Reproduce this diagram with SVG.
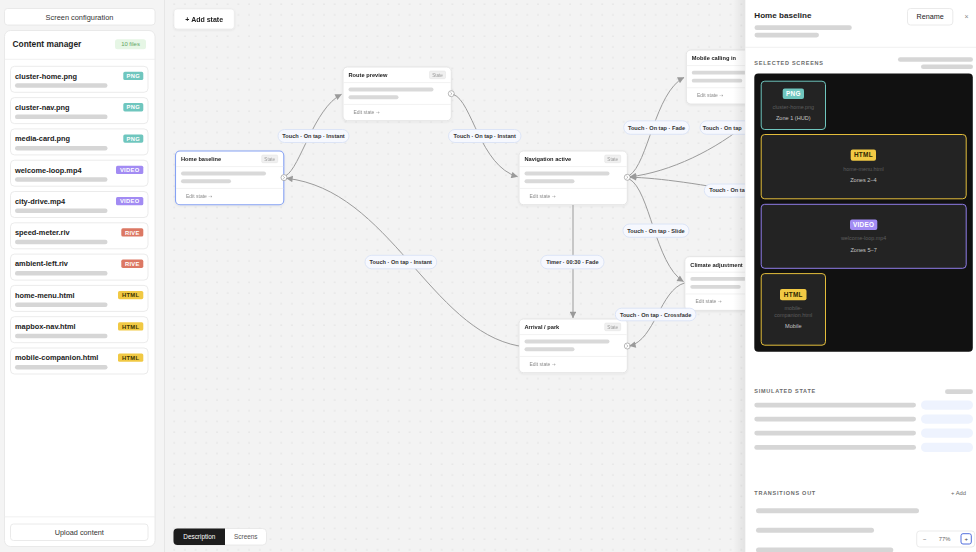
<svg xmlns="http://www.w3.org/2000/svg" width="976" height="552" viewBox="0 0 976 552">
<defs>
<pattern id="dots" x="2" y="3" width="10.7" height="10.7" patternUnits="userSpaceOnUse">
<circle cx="1" cy="1" r="0.6" fill="#d0d0d0"/>
</pattern>
<linearGradient id="shadowL" x1="0" y1="0" x2="1" y2="0">
<stop offset="0" stop-color="#000" stop-opacity="0"/>
<stop offset="1" stop-color="#000" stop-opacity="0.07"/>
</linearGradient>
<filter id="sh" x="-10%" y="-10%" width="120%" height="130%">
<feDropShadow dx="0" dy="0.8" stdDeviation="0.9" flood-color="#000" flood-opacity="0.08"/>
</filter>
<marker id="arr" viewBox="0 0 10 10" refX="9.5" refY="5" markerWidth="7.5" markerHeight="6.5" markerUnits="userSpaceOnUse" orient="auto">
<path d="M0,0 L10,5 L0,10 z" fill="#9a9a9a"/>
</marker>
</defs>
<style>
text{font-family:"Liberation Sans",Arial,sans-serif}
.card{fill:#fff;stroke:#e6e6e6;stroke-width:0.8}
.fname{font-size:7.4px;font-weight:bold;fill:#222}
.bar{fill:#d6d6d6}
.bdg{font-size:5.8px;font-weight:bold;fill:#fff;text-anchor:middle;letter-spacing:0.3px}
.node{fill:#fff;stroke:#e0e0e0;stroke-width:0.8}
.ntitle{font-size:5.7px;font-weight:bold;fill:#222}
.sep{stroke:#ececec;stroke-width:0.7}
.nbar{fill:#d9d9d9}
.edit{font-size:5px;fill:#8a8a8a}
.ar{font-family:"DejaVu Sans",sans-serif;font-size:4.6px}
.stb{fill:#f0f0f0;stroke:#e2e2e2;stroke-width:0.5}
.stt{font-size:4.6px;fill:#9a9a9a;text-anchor:middle}
.port{fill:#fff;stroke:#9a9a9a;stroke-width:0.7}
.edge{fill:none;stroke:#9b9b9b;stroke-width:1}
.pill{fill:#f6f8fe;stroke:#d5dff5;stroke-width:0.8}
.ptxt{font-size:5.6px;font-weight:bold;fill:#333;text-anchor:middle}
.cap{font-size:5.5px;font-weight:bold;fill:#6b6b6b;letter-spacing:0.75px}
.tile{fill:#232323;stroke-width:1}
.tfile{font-size:5.4px;fill:#5e5e5e;text-anchor:middle}
.tzone{font-size:5.6px;fill:#c4c4c4;text-anchor:middle}
.tb{font-size:6.4px;font-weight:bold;text-anchor:middle;letter-spacing:0.3px}
</style>

<rect x="0" y="0" width="976" height="552" fill="#f4f4f4"/>

<g id="canvas">
<rect x="165" y="0" width="811" height="552" fill="#f3f3f3"/>
<rect x="165" y="0" width="811" height="552" fill="url(#dots)"/>
<line x1="164.5" y1="0" x2="164.5" y2="552" stroke="#e6e6e6" stroke-width="1"/>
</g>

<g id="sidebar">
<g id="screen-config">
<rect x="4.5" y="8.5" width="150.5" height="16.5" rx="3" fill="#fff" stroke="#e4e4e4" stroke-width="0.8"/>
<text x="79.5" y="19.6" font-size="7.4" font-weight="500" fill="#333" text-anchor="middle">Screen configuration</text>
</g>
<g id="content-manager">
<rect x="4.5" y="30.5" width="150.5" height="516" rx="6" fill="#fff" stroke="#e4e4e4" stroke-width="0.8"/>
<text x="12.5" y="47" font-size="8.4" font-weight="bold" fill="#1e1e1e">Content manager</text>
<rect x="115" y="39.3" width="31" height="10" rx="2.5" fill="#e6f6e5"/>
<text x="130.5" y="46.4" font-size="5.9" fill="#5fa35f" text-anchor="middle">10 files</text>
<line x1="4.5" y1="59.3" x2="155" y2="59.3" stroke="#ececec" stroke-width="0.8"/>

<g id="file-1"><rect class="card" x="10.5" y="66.3" width="137.5" height="26" rx="4"/><text class="fname" x="15" y="78.6">cluster-home.png</text><rect class="bar" x="15" y="83.3" width="92.5" height="4.5" rx="2.2"/><rect x="123.3" y="71.8" width="20" height="8.3" rx="1.6" fill="#6fc6be"/><text class="bdg" x="133.3" y="78.1">PNG</text></g>
<g id="file-2"><rect class="card" x="10.5" y="97.6" width="137.5" height="26" rx="4"/><text class="fname" x="15" y="109.9">cluster-nav.png</text><rect class="bar" x="15" y="114.6" width="92.5" height="4.5" rx="2.2"/><rect x="123.3" y="103.1" width="20" height="8.3" rx="1.6" fill="#6fc6be"/><text class="bdg" x="133.3" y="109.4">PNG</text></g>
<g id="file-3"><rect class="card" x="10.5" y="128.9" width="137.5" height="26" rx="4"/><text class="fname" x="15" y="141.2">media-card.png</text><rect class="bar" x="15" y="145.9" width="92.5" height="4.5" rx="2.2"/><rect x="123.3" y="134.4" width="20" height="8.3" rx="1.6" fill="#6fc6be"/><text class="bdg" x="133.3" y="140.7">PNG</text></g>
<g id="file-4"><rect class="card" x="10.5" y="160.2" width="137.5" height="26" rx="4"/><text class="fname" x="15" y="172.5">welcome-loop.mp4</text><rect class="bar" x="15" y="177.2" width="92.5" height="4.5" rx="2.2"/><rect x="116" y="165.7" width="27.3" height="8.3" rx="1.6" fill="#a28bf3"/><text class="bdg" x="129.7" y="172">VIDEO</text></g>
<g id="file-5"><rect class="card" x="10.5" y="191.5" width="137.5" height="26" rx="4"/><text class="fname" x="15" y="203.8">city-drive.mp4</text><rect class="bar" x="15" y="208.5" width="92.5" height="4.5" rx="2.2"/><rect x="116" y="197" width="27.3" height="8.3" rx="1.6" fill="#a28bf3"/><text class="bdg" x="129.7" y="203.3">VIDEO</text></g>
<g id="file-6"><rect class="card" x="10.5" y="222.8" width="137.5" height="26" rx="4"/><text class="fname" x="15" y="235.1">speed-meter.riv</text><rect class="bar" x="15" y="239.8" width="92.5" height="4.5" rx="2.2"/><rect x="121.3" y="228.3" width="22" height="8.3" rx="1.6" fill="#dc7864"/><text class="bdg" x="132.3" y="234.6">RIVE</text></g>
<g id="file-7"><rect class="card" x="10.5" y="254.1" width="137.5" height="26" rx="4"/><text class="fname" x="15" y="266.4">ambient-left.riv</text><rect class="bar" x="15" y="271.1" width="92.5" height="4.5" rx="2.2"/><rect x="121.3" y="259.6" width="22" height="8.3" rx="1.6" fill="#dc7864"/><text class="bdg" x="132.3" y="265.9">RIVE</text></g>
<g id="file-8"><rect class="card" x="10.5" y="285.4" width="137.5" height="26" rx="4"/><text class="fname" x="15" y="297.7">home-menu.html</text><rect class="bar" x="15" y="302.4" width="92.5" height="4.5" rx="2.2"/><rect x="118" y="290.9" width="25.3" height="8.3" rx="1.6" fill="#f1c944"/><text class="bdg" x="130.7" y="297.2" style="fill:#3b3200">HTML</text></g>
<g id="file-9"><rect class="card" x="10.5" y="316.7" width="137.5" height="26" rx="4"/><text class="fname" x="15" y="329">mapbox-nav.html</text><rect class="bar" x="15" y="333.7" width="92.5" height="4.5" rx="2.2"/><rect x="118" y="322.2" width="25.3" height="8.3" rx="1.6" fill="#f1c944"/><text class="bdg" x="130.7" y="328.5" style="fill:#3b3200">HTML</text></g>
<g id="file-10"><rect class="card" x="10.5" y="348" width="137.5" height="26" rx="4"/><text class="fname" x="15" y="360.3">mobile-companion.html</text><rect class="bar" x="15" y="365" width="92.5" height="4.5" rx="2.2"/><rect x="118" y="353.5" width="25.3" height="8.3" rx="1.6" fill="#f1c944"/><text class="bdg" x="130.7" y="359.8" style="fill:#3b3200">HTML</text></g>

<line x1="4.5" y1="516.8" x2="155" y2="516.8" stroke="#ececec" stroke-width="0.8"/>
<g id="upload">
<rect x="10.5" y="524" width="137.5" height="16.5" rx="3" fill="#fff" stroke="#e4e4e4" stroke-width="0.8"/>
<text x="79.3" y="534.8" font-size="7.3" font-weight="500" fill="#333" text-anchor="middle">Upload content</text>
</g>
</g>
</g>

<g id="add-state" filter="url(#sh)">
<rect x="174" y="9" width="60.3" height="20" rx="3" fill="#fff" stroke="#e6e6e6" stroke-width="0.6"/>
<text x="204.2" y="21.6" font-size="7" font-weight="bold" fill="#222" text-anchor="middle">+ Add state</text>
</g>

<g id="node-home-baseline" filter="url(#sh)">
<rect x="175.5" y="151" width="108.3" height="53.7" rx="4.5" fill="#fff" stroke="#86a2f3" stroke-width="1.1"/>
<text class="ntitle" x="181" y="161.1">Home baseline</text>
<rect class="stb" x="261.7" y="155" width="16" height="7.7" rx="1.2"/><text class="stt" x="269.7" y="160.5">State</text>
<line class="sep" x1="176" y1="166.6" x2="283.3" y2="166.6"/>
<rect class="nbar" x="181" y="171.6" width="85" height="4" rx="2"/>
<rect class="nbar" x="181" y="179.3" width="50" height="4" rx="2"/>
<line class="sep" x1="176" y1="188.4" x2="283.3" y2="188.4"/>
<text class="edit" x="186" y="197.7">Edit state <tspan class="ar">→</tspan></text>
</g>

<g id="node-route-preview" filter="url(#sh)">
<rect class="node" x="343" y="67" width="108.3" height="53.7" rx="4.5"/>
<text class="ntitle" x="348.5" y="77.1">Route preview</text>
<rect class="stb" x="429.5" y="71" width="16" height="7.7" rx="1.2"/><text class="stt" x="437.5" y="76.5">State</text>
<line class="sep" x1="343.5" y1="82.6" x2="450.8" y2="82.6"/>
<rect class="nbar" x="348.5" y="87.6" width="85" height="4" rx="2"/>
<rect class="nbar" x="348.5" y="95.3" width="50" height="4" rx="2"/>
<line class="sep" x1="343.5" y1="104.4" x2="450.8" y2="104.4"/>
<text class="edit" x="353.5" y="113.7">Edit state <tspan class="ar">→</tspan></text>
</g>

<g id="node-navigation-active" filter="url(#sh)">
<rect class="node" x="519" y="151" width="108.3" height="53.7" rx="4.5"/>
<text class="ntitle" x="524.5" y="161.1">Navigation active</text>
<rect class="stb" x="604.7" y="155" width="16" height="7.7" rx="1.2"/><text class="stt" x="612.7" y="160.5">State</text>
<line class="sep" x1="519.5" y1="166.6" x2="626.8" y2="166.6"/>
<rect class="nbar" x="524.5" y="171.6" width="85" height="4" rx="2"/>
<rect class="nbar" x="524.5" y="179.3" width="50" height="4" rx="2"/>
<line class="sep" x1="519.5" y1="188.4" x2="626.8" y2="188.4"/>
<text class="edit" x="529.5" y="197.7">Edit state <tspan class="ar">→</tspan></text>
</g>

<g id="node-arrival-park" filter="url(#sh)">
<rect class="node" x="519" y="319" width="108.3" height="53.7" rx="4.5"/>
<text class="ntitle" x="524.5" y="329.1">Arrival / park</text>
<rect class="stb" x="604.7" y="323" width="16" height="7.7" rx="1.2"/><text class="stt" x="612.7" y="328.5">State</text>
<line class="sep" x1="519.5" y1="334.6" x2="626.8" y2="334.6"/>
<rect class="nbar" x="524.5" y="339.6" width="85" height="4" rx="2"/>
<rect class="nbar" x="524.5" y="347.3" width="50" height="4" rx="2"/>
<line class="sep" x1="519.5" y1="356.4" x2="626.8" y2="356.4"/>
<text class="edit" x="529.5" y="365.7">Edit state <tspan class="ar">→</tspan></text>
</g>

<g id="node-mobile-calling-in" filter="url(#sh)">
<rect class="node" x="686.3" y="50" width="108.3" height="54" rx="4.5"/>
<text class="ntitle" x="691.8" y="60.1">Mobile calling in</text>
<line class="sep" x1="686.8" y1="65.6" x2="794" y2="65.6"/>
<rect class="nbar" x="691.8" y="70.8" width="85" height="3.8" rx="1.9"/>
<rect class="nbar" x="691.8" y="78.8" width="50.5" height="3.8" rx="1.9"/>
<line class="sep" x1="686.8" y1="87.7" x2="794" y2="87.7"/>
<text class="edit" x="697" y="97.2">Edit state <tspan class="ar">→</tspan></text>
</g>

<g id="node-climate-adjustment" filter="url(#sh)">
<rect class="node" x="684.8" y="256.7" width="108.3" height="53.7" rx="4.5"/>
<text class="ntitle" x="690.3" y="266.5">Climate adjustment</text>
<line class="sep" x1="685.3" y1="272.2" x2="792.6" y2="272.2"/>
<rect class="nbar" x="690.3" y="277" width="85" height="3.8" rx="1.9"/>
<rect class="nbar" x="690.3" y="284.9" width="50.5" height="3.8" rx="1.9"/>
<line class="sep" x1="685.3" y1="294" x2="792.6" y2="294"/>
<text class="edit" x="695.5" y="303.3">Edit state <tspan class="ar">→</tspan></text>
</g>

<g id="ports">
<circle class="port" cx="284" cy="177.6" r="3"/><path d="M283.2,176.3 L284.6,177.6 L283.2,178.9" fill="none" stroke="#777" stroke-width="0.5"/>
<circle class="port" cx="451.3" cy="93.7" r="3"/><path d="M450.5,92.4 L451.9,93.7 L450.5,95" fill="none" stroke="#777" stroke-width="0.5"/>
<circle class="port" cx="627.3" cy="177.3" r="3"/><path d="M626.5,176 L627.9,177.3 L626.5,178.6" fill="none" stroke="#777" stroke-width="0.5"/>
<circle class="port" cx="627.3" cy="346" r="3"/><path d="M626.5,344.7 L627.9,346 L626.5,347.3" fill="none" stroke="#777" stroke-width="0.5"/>
</g>

<g id="connectors">
<path class="edge" marker-end="url(#arr)" d="M286,175.5 C300,168 314,108 341.5,94.3"/>
<path class="edge" marker-end="url(#arr)" d="M453.5,94.5 C472,101 480,166 517.5,176.7"/>
<path class="edge" marker-end="url(#arr)" d="M519,346 C430,330 390,190 286.5,178.3"/>
<path class="edge" marker-end="url(#arr)" d="M573,205 L573,318"/>
<path class="edge" marker-end="url(#arr)" d="M629.3,175.5 C648,164 655,92 684,77.5"/>
<path class="edge" marker-end="url(#arr)" d="M750,121 C716,150 670,172 630,176.8"/>
<path class="edge" marker-end="url(#arr)" d="M760,195 C700,184 660,178 630,177.2"/>
<path class="edge" marker-end="url(#arr)" d="M629.3,179 C650,190 655,264 683.5,281.5"/>
<path class="edge" marker-end="url(#arr)" d="M684.5,283 C660,290 655,340 629.5,346"/>
</g>

<g id="connector-labels">
<rect class="pill" x="278" y="129.5" width="71" height="13" rx="6.5"/><text class="ptxt" x="313.5" y="138.1">Touch · On tap · Instant</text>
<rect class="pill" x="448.5" y="129.5" width="72.5" height="13" rx="6.5"/><text class="ptxt" x="484.7" y="138.1">Touch · On tap · Instant</text>
<rect class="pill" x="365" y="255.3" width="71.7" height="13.5" rx="6.7"/><text class="ptxt" x="400.8" y="264">Touch · On tap · Instant</text>
<rect class="pill" x="540.7" y="255.3" width="63.3" height="13.5" rx="6.7"/><text class="ptxt" x="572.4" y="264">Timer · 00:30 · Fade</text>
<rect class="pill" x="623.7" y="120.8" width="65.6" height="13.5" rx="6.7"/><text class="ptxt" x="656.5" y="129.5">Touch · On tap · Fade</text>
<rect class="pill" x="700" y="120.8" width="70" height="13.5" rx="6.7"/><text class="ptxt" x="722.2" y="129.5">Touch · On tap</text>
<rect class="pill" x="704.3" y="184" width="70" height="13" rx="6.5"/><text class="ptxt" x="727" y="192.4">Touch · On ta</text>
<rect class="pill" x="623" y="224" width="66" height="13.3" rx="6.6"/><text class="ptxt" x="656" y="232.6">Touch · On tap · Slide</text>
<rect class="pill" x="615.3" y="308.2" width="80.7" height="12.6" rx="6.3"/><text class="ptxt" x="655.6" y="316.5">Touch · On tap · Crossfade</text>
</g>

<g id="view-tabs">
<rect x="173.5" y="528.5" width="93" height="16.5" rx="4" fill="#fff" stroke="#e2e2e2" stroke-width="0.7"/>
<path d="M177.5,528.5 H225 V545 H177.5 A4,4 0 0 1 173.5,541 V532.5 A4,4 0 0 1 177.5,528.5 Z" fill="#1d1d1d"/>
<text x="199.3" y="539.2" font-size="6.4" fill="#fff" text-anchor="middle">Description</text>
<text x="245.8" y="539.2" font-size="6.4" fill="#555" text-anchor="middle">Screens</text>
</g>

<g id="inspector">
<rect x="733" y="0" width="12" height="552" fill="url(#shadowL)"/>
<rect x="745" y="0" width="231" height="552" fill="#fff"/>
<line x1="745.3" y1="0" x2="745.3" y2="552" stroke="#ececec" stroke-width="0.6"/>
<text x="754.3" y="17.6" font-size="8.1" font-weight="bold" fill="#1e1e1e">Home baseline</text>
<rect class="bar" x="754.5" y="25.3" width="97.3" height="4.8" rx="2.4"/>
<rect class="bar" x="754.5" y="32.7" width="64.5" height="4.8" rx="2.4"/>
<g id="rename">
<rect x="907.5" y="8.5" width="45.3" height="16.5" rx="3" fill="#fff" stroke="#e4e4e4" stroke-width="0.8"/>
<text x="930.2" y="19.4" font-size="7.2" font-weight="500" fill="#222" text-anchor="middle">Rename</text>
</g>
<text x="966.5" y="19.4" font-size="7" fill="#888" text-anchor="middle">×</text>
<line x1="745" y1="47.3" x2="976" y2="47.3" stroke="#ececec" stroke-width="0.8"/>

<text class="cap" x="754.3" y="64.6">SELECTED SCREENS</text>
<rect class="bar" x="898" y="57.3" width="75" height="4.5" rx="2.2"/>
<rect class="bar" x="921" y="64.4" width="52" height="4.7" rx="2.3"/>

<g id="screen-preview">
<rect x="754.3" y="73.4" width="218.5" height="278.3" rx="4" fill="#111"/>
<g id="tile-zone1">
<rect class="tile" x="761.2" y="81.2" width="64.3" height="48.3" rx="3.5" stroke="#6fc6be"/>
<rect x="782.7" y="88.4" width="21.3" height="10.6" rx="2" fill="#6fc6be"/>
<text class="tb" x="793.3" y="95.9" fill="#fff">PNG</text>
<text class="tfile" x="793.3" y="108.5">cluster-home.png</text>
<text class="tzone" x="793.3" y="120">Zone 1 (HUD)</text>
</g>
<g id="tile-zones2-4">
<rect class="tile" x="761.2" y="134.5" width="205" height="64.3" rx="3.5" stroke="#e3bd3b"/>
<rect x="850.7" y="149.4" width="25.3" height="11.3" rx="2" fill="#f1c944"/>
<text class="tb" x="863.4" y="157.2" fill="#2e2600">HTML</text>
<text class="tfile" x="863.4" y="170.6">home-menu.html</text>
<text class="tzone" x="863.4" y="182">Zones 2–4</text>
</g>
<g id="tile-zones5-7">
<rect class="tile" x="761.2" y="204.3" width="205" height="64" rx="3.5" stroke="#8f7ce8"/>
<rect x="850" y="219.6" width="27.3" height="10.5" rx="2" fill="#a28bf3"/>
<text class="tb" x="863.6" y="227" fill="#fff">VIDEO</text>
<text class="tfile" x="863.6" y="240.3">welcome-loop.mp4</text>
<text class="tzone" x="863.6" y="252">Zones 5–7</text>
</g>
<g id="tile-mobile">
<rect class="tile" x="761.2" y="273.6" width="64.3" height="71.6" rx="3.5" stroke="#e3bd3b"/>
<rect x="780" y="289" width="26.5" height="11.3" rx="2" fill="#f1c944"/>
<text class="tb" x="793.3" y="296.8" fill="#2e2600">HTML</text>
<text class="tfile" x="793.3" y="310.3">mobile-</text>
<text class="tfile" x="793.3" y="317">companion.html</text>
<text class="tzone" x="793.3" y="328.3">Mobile</text>
</g>
</g>

<text class="cap" x="754.3" y="393">SIMULATED STATE</text>
<rect class="bar" x="945" y="389.3" width="28" height="4.8" rx="2.4"/>
<g id="sim-rows">
<rect class="bar" x="754.3" y="402.7" width="161.7" height="4.8" rx="2.4"/><rect x="921" y="400.4" width="52" height="9.3" rx="4.6" fill="#eef3fe"/>
<rect class="bar" x="754.3" y="416.7" width="161.7" height="4.8" rx="2.4"/><rect x="921" y="414.4" width="52" height="9.3" rx="4.6" fill="#eef3fe"/>
<rect class="bar" x="754.3" y="430.7" width="161.7" height="4.8" rx="2.4"/><rect x="921" y="428.4" width="52" height="9.3" rx="4.6" fill="#eef3fe"/>
<rect class="bar" x="754.3" y="445" width="161.7" height="4.8" rx="2.4"/><rect x="921" y="442.7" width="52" height="9.3" rx="4.6" fill="#eef3fe"/>
</g>

<text class="cap" x="754.3" y="494.7">TRANSITIONS OUT</text>
<text x="966" y="494.8" font-size="5.8" fill="#666" text-anchor="end">+ Add</text>
<rect class="bar" x="756" y="508.3" width="163" height="5" rx="2.5"/>
<rect class="bar" x="756" y="527.8" width="118" height="5" rx="2.5"/>
<rect class="bar" x="756" y="547.5" width="137.3" height="5" rx="2.5"/>
</g>

<g id="zoom-control">
<rect x="916.7" y="531" width="58" height="16" rx="3" fill="#fff" stroke="#e2e2e2" stroke-width="0.7"/>
<text x="924.7" y="541.2" font-size="6" fill="#666" text-anchor="middle">−</text>
<text x="944.5" y="541.2" font-size="5.8" fill="#666" text-anchor="middle">77%</text>
<rect x="961" y="533.7" width="10.3" height="10.3" rx="2" fill="#fff" stroke="#3f5fd8" stroke-width="0.9"/>
<text x="966.2" y="541.1" font-size="6" fill="#444" text-anchor="middle">+</text>
</g>
</svg>
